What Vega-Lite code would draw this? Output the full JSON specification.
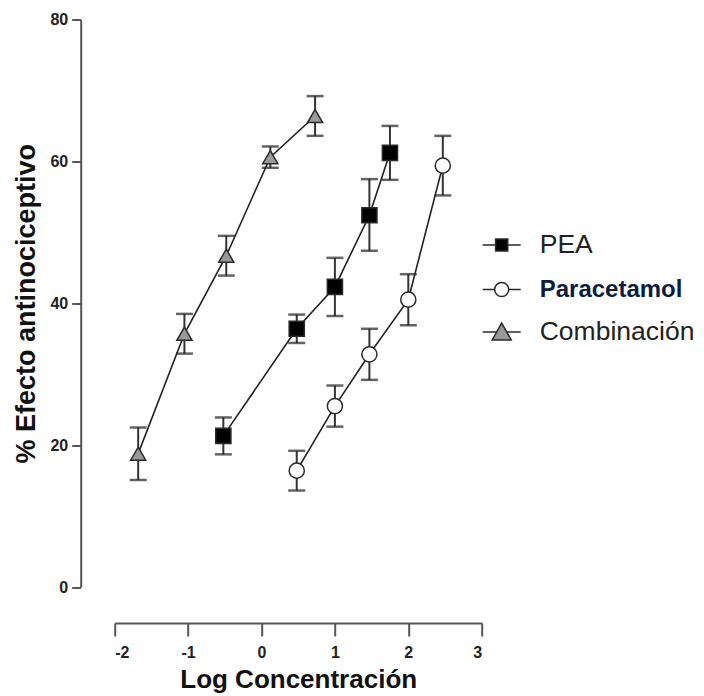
{
  "$schema": "https://vega.github.io/schema/vega-lite/v6.json",
  "autosize": {"type": "none"},
  "padding": {"left": 114.7, "top": 19.5, "right": 222.3, "bottom": 109},
  "width": 367,
  "height": 567.5,
  "background": "white",
  "config": {
    "view": {"stroke": null},
    "font": "Liberation Sans",
    "axis": {
      "grid": false,
      "domainColor": "#555",
      "domainWidth": 2,
      "tickColor": "#555",
      "tickWidth": 2,
      "labelFont": "Liberation Sans",
      "labelFontWeight": "bold",
      "labelFontSize": 16,
      "labelColor": "#222",
      "titleFont": "Liberation Sans",
      "titleFontWeight": "bold",
      "titleColor": "#111"
    }
  },
  "data": {
    "values": [
      {"serie": "PEA", "logc": -0.52, "mean": 21.3, "lo": 18.7, "hi": 23.9},
      {"serie": "PEA", "logc": 0.48, "mean": 36.4, "lo": 34.4, "hi": 38.4},
      {"serie": "PEA", "logc": 1.0, "mean": 42.3, "lo": 38.2, "hi": 46.4},
      {"serie": "PEA", "logc": 1.47, "mean": 52.4, "lo": 47.4, "hi": 57.5},
      {"serie": "PEA", "logc": 1.75, "mean": 61.2, "lo": 57.4, "hi": 65.0},
      {"serie": "Paracetamol", "logc": 0.48, "mean": 16.4, "lo": 13.6, "hi": 19.2},
      {"serie": "Paracetamol", "logc": 1.0, "mean": 25.5, "lo": 22.6, "hi": 28.4},
      {"serie": "Paracetamol", "logc": 1.47, "mean": 32.8, "lo": 29.2, "hi": 36.4},
      {"serie": "Paracetamol", "logc": 2.0, "mean": 40.5, "lo": 36.9, "hi": 44.1},
      {"serie": "Paracetamol", "logc": 2.47, "mean": 59.4, "lo": 55.2, "hi": 63.6},
      {"serie": "Combinación", "logc": -1.68, "mean": 18.8, "lo": 15.1, "hi": 22.5},
      {"serie": "Combinación", "logc": -1.05, "mean": 35.7, "lo": 32.9, "hi": 38.5},
      {"serie": "Combinación", "logc": -0.48, "mean": 46.7, "lo": 43.9, "hi": 49.5},
      {"serie": "Combinación", "logc": 0.12, "mean": 60.6, "lo": 59.1, "hi": 62.1},
      {"serie": "Combinación", "logc": 0.73, "mean": 66.4, "lo": 63.6, "hi": 69.2}
    ]
  },
  "encoding": {
    "x": {
      "field": "logc",
      "type": "quantitative",
      "scale": {"domain": [-2, 3], "nice": false, "zero": false},
      "axis": {
        "title": "Log Concentración",
        "titleFontSize": 26,
        "values": [-2, -1, 0, 1, 2, 3],
        "labelExpr": "datum.value < 0 ? '-' + abs(datum.value) : '' + datum.value",
        "offset": 36,
        "tickSize": 13,
        "labelPadding": 8,
        "titlePadding": 6
      }
    }
  },
  "layer": [
    {
      "mark": {"type": "line", "color": "#222", "strokeWidth": 1.6},
      "encoding": {
        "y": {
          "field": "mean",
          "type": "quantitative",
          "scale": {"domain": [0, 80], "nice": false},
          "title": "% Efecto antinociceptivo",
          "axis": {
            "titleFontSize": 27,
            "values": [0, 20, 40, 60, 80],
            "offset": 34,
            "tickSize": 9,
            "labelPadding": 4,
            "titlePadding": 9
          }
        },
        "detail": {"field": "serie"}
      }
    },
    {
      "mark": {"type": "rule", "color": "#333", "strokeWidth": 2},
      "encoding": {
        "y": {"field": "lo", "type": "quantitative", "title": "% Efecto antinociceptivo"},
        "y2": {"field": "hi"}
      }
    },
    {
      "mark": {"type": "tick", "orient": "horizontal", "color": "#222", "size": 17, "thickness": 2.5},
      "encoding": {
        "y": {"field": "lo", "type": "quantitative", "title": "% Efecto antinociceptivo"}
      }
    },
    {
      "mark": {"type": "tick", "orient": "horizontal", "color": "#222", "size": 17, "thickness": 2.5},
      "encoding": {
        "y": {"field": "hi", "type": "quantitative", "title": "% Efecto antinociceptivo"}
      }
    },
    {
      "mark": {"type": "point", "filled": true, "strokeWidth": 1.5, "opacity": 1, "size": 230},
      "encoding": {
        "y": {"field": "mean", "type": "quantitative", "title": "% Efecto antinociceptivo"},
        "shape": {
          "field": "serie",
          "type": "nominal",
          "scale": {"domain": ["Combinación", "PEA", "Paracetamol"], "range": ["triangle-up", "square", "circle"]},
          "legend": null
        },
        "fill": {
          "field": "serie",
          "type": "nominal",
          "scale": {"domain": ["PEA", "Paracetamol", "Combinación"], "range": ["#000000", "#ffffff", "#999999"]},
          "legend": {
            "title": null,
            "orient": "none",
            "legendX": 367,
            "legendY": 205.5,
            "padding": 0,
            "symbolSize": 1444,
            "symbolStrokeWidth": 1.5,
            "symbolType": {"expr": "datum.value === 'PEA' ? 'M-1,0H-0.32M0.32,0H1M-0.32,-0.32H0.32V0.32H-0.32Z' : datum.value === 'Paracetamol' ? 'M-1,0H-0.37M0.37,0H1M0.37,0A0.37,0.37 0 1,1 -0.37,0A0.37,0.37 0 1,1 0.37,0Z' : 'M-1,0H-0.24M0.24,0H1M0,-0.47L0.5,0.42H-0.5Z'"},
            "labelOffset": 18,
            "rowPadding": 10.5,
            "labelFont": "Liberation Sans",
            "labelFontSize": {"expr": "datum.value === 'Paracetamol' ? 24 : 26.5"},
            "labelFontWeight": {"expr": "datum.value === 'Paracetamol' ? 'bold' : 'normal'"},
            "labelColor": {"expr": "datum.value === 'Paracetamol' ? '#0d1b3e' : '#222222'"}
          }
        },
        "stroke": {
          "field": "serie",
          "type": "nominal",
          "scale": {"domain": ["PEA", "Paracetamol", "Combinación"], "range": ["#2a2a2a", "#2a2a2a", "#2a2a2a"]},
          "legend": {
            "title": null,
            "orient": "none",
            "legendX": 367,
            "legendY": 205.5,
            "padding": 0,
            "symbolSize": 1444,
            "symbolStrokeWidth": 1.5,
            "symbolType": {"expr": "datum.value === 'PEA' ? 'M-1,0H-0.32M0.32,0H1M-0.32,-0.32H0.32V0.32H-0.32Z' : datum.value === 'Paracetamol' ? 'M-1,0H-0.37M0.37,0H1M0.37,0A0.37,0.37 0 1,1 -0.37,0A0.37,0.37 0 1,1 0.37,0Z' : 'M-1,0H-0.24M0.24,0H1M0,-0.47L0.5,0.42H-0.5Z'"},
            "labelOffset": 18,
            "rowPadding": 10.5,
            "labelFont": "Liberation Sans",
            "labelFontSize": {"expr": "datum.value === 'Paracetamol' ? 24 : 26.5"},
            "labelFontWeight": {"expr": "datum.value === 'Paracetamol' ? 'bold' : 'normal'"},
            "labelColor": {"expr": "datum.value === 'Paracetamol' ? '#0d1b3e' : '#222222'"}
          }
        }
      }
    }
  ]
}
